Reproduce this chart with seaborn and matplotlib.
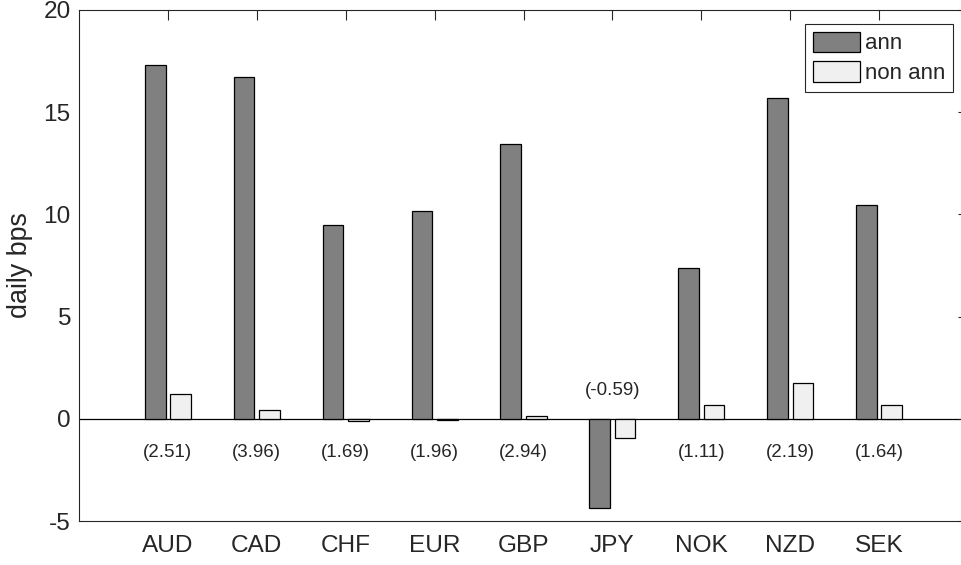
import matplotlib
matplotlib.use("Agg")
import matplotlib.pyplot as plt
import pandas as pd
import seaborn as sns

# chart data
currencies = ["AUD", "CAD", "CHF", "EUR", "GBP", "JPY", "NOK", "NZD", "SEK"]
ann = [17.3, 16.7, 9.5, 10.15, 13.45, -4.35, 7.4, 15.7, 10.45]
non_ann = [1.19, 0.42, -0.12, -0.07, 0.16, -0.96, 0.68, 1.76, 0.66]
tstats = ["(2.51)", "(3.96)", "(1.69)", "(1.96)", "(2.94)", "(-0.59)", "(1.11)", "(2.19)", "(1.64)"]

df = pd.DataFrame({
    "currency": currencies * 2,
    "bps": ann + non_ann,
    "type": ["ann"] * len(currencies) + ["non ann"] * len(currencies),
})

sns.set_style("white")
plt.rcParams["font.family"] = ["Liberation Sans", "DejaVu Sans"]
plt.rcParams["axes.unicode_minus"] = False

fig = plt.figure(figsize=(9.62, 5.65), dpi=100)
ax = fig.add_axes([79 / 962, 44 / 565, 889 / 962, 511 / 565])

sns.barplot(data=df, x="currency", y="bps", hue="type", order=currencies,
            palette=["#808080", "#f0f0f0"], edgecolor="black", linewidth=0.9,
            width=0.573, gap=0.187, errorbar=None, ax=ax)

ax.axhline(0, color="black", lw=0.9, zorder=0.5)

#t-stat labels under/over each currency
for i, lab in enumerate(tstats):
    y = -1.65 if ann[i] > 0 else 1.4
    ax.text(i, y, lab, ha="center", va="center", fontsize=13.5)

ax.set_xlim(-1, 9)
ax.set_ylim(-5, 20)
ax.set_yticks([-5, 0, 5, 10, 15, 20])
ax.set_xlabel("")
ax.set_ylabel("daily bps", fontsize=19.4)
ax.yaxis.set_label_coords(-0.052, 0.5)
ax.tick_params(direction="in", top=True, right=True, length=7, width=0.8,
               labelsize=17.6, color="#262626")
ax.tick_params(axis="y", pad=6)
ax.tick_params(axis="x", pad=10)
for s in ax.spines.values():
    s.set_visible(True)
    s.set_color("#262626")
    s.set_linewidth(0.8)

h, l = ax.get_legend_handles_labels()
leg = ax.legend(h, l, loc="upper right", bbox_to_anchor=(0.983, 0.973),
                fontsize=16, fancybox=False, framealpha=1, edgecolor="#262626",
                handlelength=2.15, handleheight=1.05, handletextpad=0.2,
                labelspacing=0.3, borderpad=0.35, borderaxespad=0)
leg.get_frame().set_linewidth(0.8)

fig.savefig("out.png", dpi=100)
